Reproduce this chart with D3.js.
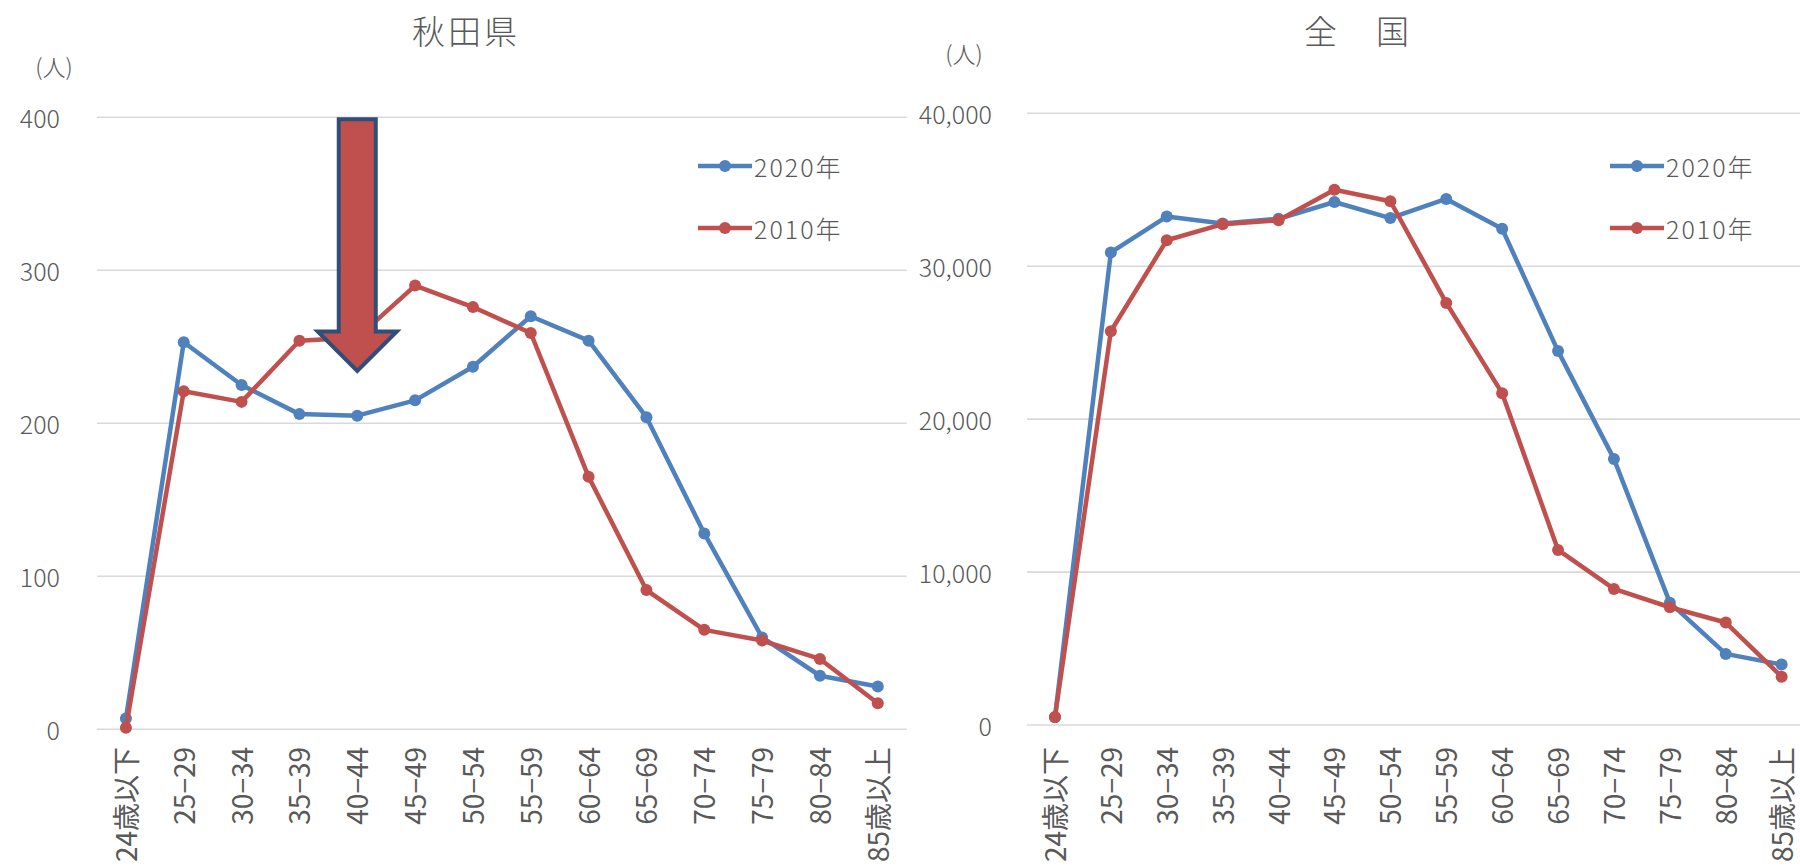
<!DOCTYPE html>
<html lang="ja">
<head>
<meta charset="utf-8">
<title>年齢階級別 人数 秋田県・全国</title>
<script src="https://cdn.jsdelivr.net/npm/d3@7/dist/d3.min.js"></script>
<style>
  html, body { margin: 0; padding: 0; background: #ffffff; overflow: hidden; }
  svg { display: block; }
  text { font-family: "Noto Sans CJK JP", "Noto Sans", sans-serif; font-weight: 300; fill: #595959; }
  .cat-label { font-weight: 400; }
</style>
</head>
<body>
<svg id="chart" width="1800" height="868"></svg>
<script>
// 年齢階級
const categories = ["24歳以下", "25−29", "30−34", "35−39", "40−44", "45−49", "50−54",
                    "55−59", "60−64", "65−69", "70−74", "75−79", "80−84", "85歳以上"];

// 秋田県（人）
const akita2020 = [7, 253, 225, 206, 205, 215, 237, 270, 254, 204, 128, 60, 35, 28];
const akita2010 = [1, 221, 214, 254, 256, 290, 276, 259, 165, 91, 65, 58, 46, 17];

// 全国（人）
const national2020 = [500, 30900, 33250, 32800, 33100, 34200, 33150, 34400, 32450, 24450, 17400, 8000, 4650, 3950];
const national2010 = [520, 25750, 31700, 32750, 33000, 35000, 34250, 27600, 21700, 11450, 8900, 7700, 6700, 3150];

// 目盛り
const akitaTicks = [0, 100, 200, 300, 400];
const nationalTicks = [0, 10000, 20000, 30000, 40000];

// 系列名
const seriesNames = ["2020年", "2010年"];

// 注目矢印（秋田県 40−44 歳）
const arrowCategory = "40−44";
const arrowFrom = 400;
const arrowNeck = 260;
const arrowTo = 233;

const colors = { "2020年": "#4F81BD", "2010年": "#C0504D" };
const svg = d3.select("#chart");

const panels = [
  {
    title: "秋田県", titleX: 466, unitX: 54, unitY: 66,
    x0: 97, x1: 906.7, y0: 729.3, y1: 117.3, gridX1: 906.7,
    labelX: 60, ticks: akitaTicks, fmt: d3.format("d"),
    series: [akita2020, akita2010],
    legendX: 698, legendY: [166, 228]
  },
  {
    title: "全\u3000国", titleX: 1358, unitX: 964, unitY: 53,
    x0: 1027, x1: 1809.6, y0: 725, y1: 113.3, gridX1: 1800,
    labelX: 992, ticks: nationalTicks, fmt: d3.format(","),
    series: [national2020, national2010],
    legendX: 1610, legendY: [166, 228]
  }
];

panels.forEach((p, pi) => {
  const g = svg.append("g");
  const x = d3.scaleBand().domain(categories).range([p.x0, p.x1]).padding(0);
  const cx = c => x(c) + x.bandwidth() / 2;
  const y = d3.scaleLinear().domain([p.ticks[0], p.ticks[p.ticks.length - 1]]).range([p.y0, p.y1]);

  // 目盛線
  g.append("g").selectAll("line").data(p.ticks).join("line")
    .attr("x1", p.x0).attr("x2", p.gridX1)
    .attr("y1", d => y(d)).attr("y2", d => y(d))
    .attr("stroke", "#D9D9D9").attr("stroke-width", 1.6);

  // 縦軸ラベル
  g.append("g").selectAll("text").data(p.ticks).join("text")
    .attr("x", p.labelX).attr("y", d => y(d))
    .attr("text-anchor", "end").attr("dominant-baseline", "central")
    .attr("font-size", 25).text(d => p.fmt(d));

  // 単位
  g.append("text").attr("x", p.unitX).attr("y", p.unitY)
    .attr("text-anchor", "middle").attr("dominant-baseline", "central")
    .attr("font-size", 23).text("(人)");

  // タイトル
  g.append("text").attr("x", p.titleX).attr("y", 30)
    .attr("text-anchor", "middle").attr("dominant-baseline", "central")
    .attr("font-size", 33).attr("letter-spacing", 3).text(p.title);

  // 横軸ラベル（縦書き回転）
  g.append("g").selectAll("text").data(categories).join("text")
    .attr("class", "cat-label")
    .attr("transform", d => `translate(${cx(d) - 1},747) rotate(-90)`)
    .attr("text-anchor", "end").attr("dominant-baseline", "central")
    .attr("font-size", 28).text(d => d);

  // 折れ線とマーカー
  const line = d3.line().x((d, i) => cx(categories[i])).y(d => y(d));
  p.series.forEach((vals, si) => {
    const col = colors[seriesNames[si]];
    g.append("path").datum(vals)
      .attr("d", line).attr("fill", "none")
      .attr("stroke", col).attr("stroke-width", 4.5)
      .attr("stroke-linejoin", "round");
    g.append("g").selectAll("circle").data(vals).join("circle")
      .attr("cx", (d, i) => cx(categories[i])).attr("cy", d => y(d))
      .attr("r", 6).attr("fill", col);
  });

  // 凡例
  seriesNames.forEach((name, si) => {
    const ly = p.legendY[si];
    const lg = g.append("g");
    lg.append("line").attr("x1", p.legendX).attr("x2", p.legendX + 54)
      .attr("y1", ly).attr("y2", ly)
      .attr("stroke", colors[name]).attr("stroke-width", 4.5);
    lg.append("circle").attr("cx", p.legendX + 27).attr("cy", ly).attr("r", 6)
      .attr("fill", colors[name]);
    lg.append("text").attr("x", p.legendX + 56).attr("y", ly)
      .attr("dominant-baseline", "central").attr("font-size", 25)
      .attr("letter-spacing", 2).text(name);
  });

  // 矢印（秋田県のみ）
  if (pi === 0) {
    const ax = cx(arrowCategory);
    const shaft = 18.5, head = 39.5;
    const top = y(arrowFrom) + 2, neck = y(arrowNeck), tip = y(arrowTo) - 2;
    const pts = [
      [ax - shaft, top], [ax + shaft, top], [ax + shaft, neck], [ax + head, neck],
      [ax, tip], [ax - head, neck], [ax - shaft, neck]
    ];
    g.append("path")
      .attr("d", "M" + pts.map(q => q.join(",")).join("L") + "Z")
      .attr("fill", "#C0504D").attr("stroke", "#2F4E7A")
      .attr("stroke-width", 4).attr("stroke-linejoin", "miter");
  }
});
</script>
</body>
</html>
